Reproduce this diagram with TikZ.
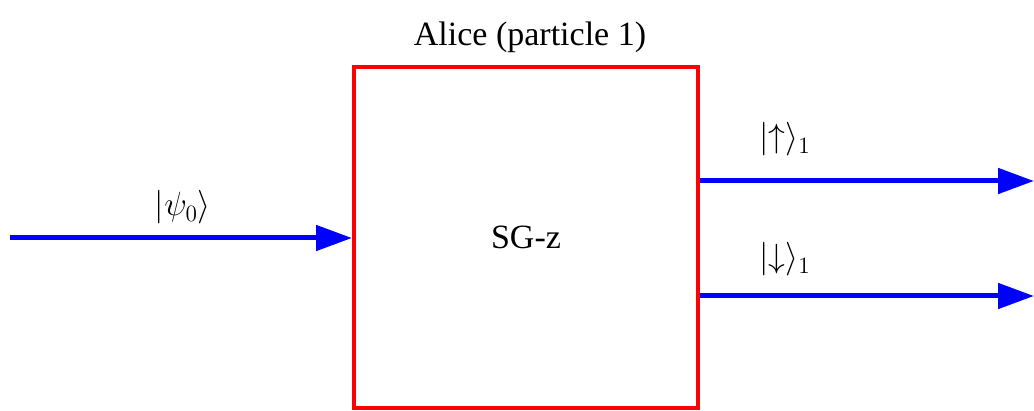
\documentclass[tikz,border=0pt]{standalone}
\usepackage{graphicx}
\usepackage{fontspec}
\setmainfont{Liberation Serif}
\usetikzlibrary{arrows.meta}
\newcommand{\bigket}[1]{\scalebox{1.62}{\fontsize{20.74}{25}\selectfont$#1$}}
\begin{document}
\begin{tikzpicture}[x=1pt,y=-1pt,
  beam/.style={draw=blue, line width=5pt, -{Triangle[length=36pt,width=25pt]}},
  lbl/.style={font=\fontsize{34}{40}\selectfont, inner sep=0pt}]
\useasboundingbox (0,0) rectangle (1034,411);
\node[draw=red, line width=4pt, minimum width=344pt, minimum height=341pt, inner sep=0pt,
      lbl] (sg) at (526,237.5) {SG-z};
\node[lbl, anchor=base] (title) at (530,46) {Alice (particle 1)};
\coordinate (in) at (10,238);
\coordinate (up) at (1034,181);
\coordinate (dn) at (1034,296);
\draw[beam] (in) -- (in -| sg.west);
\draw[beam] (sg.east |- up) -- (up);
\draw[beam] (sg.east |- dn) -- (dn);
\node[lbl, anchor=base] (psi) at (183,216) {\bigket{|\psi_0\rangle}};
\node[lbl, anchor=base] (ku) at (785,148) {\bigket{|{\uparrow}\rangle_1}};
\node[lbl, anchor=base] (kd) at (785,268) {\bigket{|{\downarrow}\rangle_1}};
\end{tikzpicture}
\end{document}
